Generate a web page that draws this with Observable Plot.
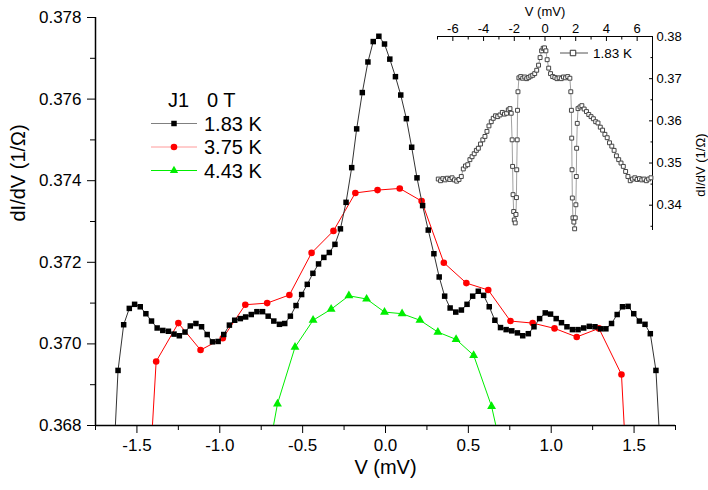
<!DOCTYPE html>
<html><head><meta charset="utf-8">
<script src="https://cdn.jsdelivr.net/npm/d3@7"></script>
<script src="https://cdn.jsdelivr.net/npm/@observablehq/plot@0.6"></script>
<style>
body{margin:0;background:#fff;font-family:"Liberation Sans",Arial,sans-serif}
#wrap{position:relative;width:708px;height:490px}
#wrap svg{position:absolute;overflow:visible}
</style></head>
<body><div id="wrap"></div>
<script>
// ---- main chart data: dI/dV vs V ----
const seriesNames = ["1.83 K", "3.75 K", "4.43 K"];
const v183 = [-1.648,-1.614,-1.580,-1.546,-1.514,-1.480,-1.446,-1.412,-1.378,-1.344,-1.310,-1.276,-1.244,-1.210,-1.178,-1.144,-1.110,-1.076,-1.044,-1.010,-0.976,-0.942,-0.910,-0.876,-0.844,-0.810,-0.776,-0.742,-0.708,-0.674,-0.640,-0.608,-0.574,-0.540,-0.506,-0.472,-0.438,-0.404,-0.372,-0.339,-0.305,-0.272,-0.238,-0.204,-0.174,-0.140,-0.106,-0.074,-0.040,-0.006,0.026,0.060,0.092,0.126,0.158,0.190,0.224,0.258,0.292,0.324,0.357,0.390,0.424,0.458,0.492,0.526,0.560,0.592,0.626,0.660,0.694,0.728,0.762,0.796,0.828,0.862,0.896,0.930,0.964,0.996,1.030,1.062,1.095,1.128,1.162,1.196,1.230,1.264,1.298,1.330,1.364,1.398,1.430,1.464,1.498,1.532,1.566,1.598,1.632,1.666];
const g183 = [0.36650,0.36935,0.37047,0.37087,0.37097,0.37091,0.37074,0.37056,0.37039,0.37033,0.37031,0.37024,0.37020,0.37029,0.37044,0.37050,0.37042,0.37023,0.37005,0.37006,0.37023,0.37046,0.37058,0.37062,0.37066,0.37072,0.37079,0.37079,0.37068,0.37056,0.37048,0.37050,0.37068,0.37094,0.37121,0.37146,0.37173,0.37196,0.37212,0.37224,0.37244,0.37282,0.37347,0.37432,0.37527,0.37616,0.37691,0.37741,0.37754,0.37735,0.37698,0.37655,0.37610,0.37552,0.37482,0.37407,0.37339,0.37279,0.37221,0.37164,0.37117,0.37088,0.37078,0.37083,0.37097,0.37117,0.37129,0.37119,0.37091,0.37058,0.37040,0.37035,0.37032,0.37027,0.37020,0.37025,0.37042,0.37062,0.37076,0.37073,0.37062,0.37052,0.37042,0.37035,0.37035,0.37039,0.37043,0.37042,0.37037,0.37037,0.37050,0.37072,0.37091,0.37092,0.37074,0.37056,0.37048,0.37025,0.36935,0.36680];
const v375 = [-1.518,-1.384,-1.250,-1.116,-0.982,-0.846,-0.714,-0.580,-0.446,-0.314,-0.182,-0.048,0.086,0.218,0.352,0.488,0.620,0.754,0.888,1.020,1.154,1.288,1.424,1.558];
const g375 = [0.36016,0.36957,0.37051,0.36985,0.37014,0.37096,0.37100,0.37120,0.37223,0.37277,0.37370,0.37377,0.37381,0.37350,0.37199,0.37149,0.37132,0.37056,0.37051,0.37038,0.37017,0.37038,0.36925,0.35896];
const v443 = [-0.760,-0.652,-0.546,-0.437,-0.328,-0.221,-0.114,-0.006,0.100,0.208,0.316,0.426,0.532,0.640,0.748];
const g443 = [0.36613,0.36853,0.36992,0.37058,0.37085,0.37118,0.37110,0.37078,0.37074,0.37058,0.37029,0.37011,0.36972,0.36847,0.36651];

const xTicks = [-1.5,-1.0,-0.5,0.0,0.5,1.0,1.5];
const xMinor = [-1.75,-1.25,-0.75,-0.25,0.25,0.75,1.25,1.75];
const yTicks = [0.368,0.370,0.372,0.374,0.376,0.378];
const yMinor = [0.369,0.371,0.373,0.375,0.377];

// ---- inset data: wide range scan at 1.83 K ----
const insetV = [-6.95,-6.80,-6.65,-6.50,-6.35,-6.20,-6.05,-5.90,-5.75,-5.60,-5.45,-5.32,-5.18,-5.03,-4.89,-4.75,-4.61,-4.47,-4.34,-4.20,-4.05,-3.91,-3.78,-3.65,-3.50,-3.37,-3.22,-3.08,-2.93,-2.78,-2.64,-2.50,-2.39,-2.28,-2.20,-2.14,-2.11,-2.08,-2.04,-2.00,-1.94,-1.89,-1.86,-1.84,-1.81,-1.79,-1.76,-1.70,-1.58,-1.45,-1.32,-1.19,-1.06,-0.93,-0.80,-0.67,-0.54,-0.42,-0.32,-0.22,-0.12,-0.03,0.06,0.14,0.24,0.36,0.50,0.64,0.78,0.92,1.06,1.20,1.34,1.48,1.62,1.68,1.72,1.74,1.76,1.78,1.82,1.88,1.93,1.97,2.01,2.04,2.06,2.10,2.15,2.28,2.40,2.55,2.70,2.85,3.00,3.15,3.30,3.45,3.60,3.75,3.90,4.05,4.20,4.35,4.50,4.65,4.80,4.95,5.10,5.25,5.40,5.55,5.70,5.85,6.00,6.15,6.30,6.45,6.60,6.75,6.90];
const insetG = [0.3462,0.3458,0.3463,0.3460,0.3464,0.3461,0.3465,0.3460,0.3457,0.3461,0.3468,0.3486,0.3493,0.3496,0.3508,0.3515,0.3522,0.3530,0.3535,0.3545,0.3555,0.3563,0.3575,0.3588,0.3598,0.3606,0.3612,0.3610,0.3614,0.3620,0.3616,0.3618,0.3626,0.3629,0.3618,0.3555,0.3492,0.3425,0.3385,0.3365,0.3358,0.3378,0.3418,0.3484,0.3555,0.3625,0.3669,0.3702,0.3705,0.3701,0.3704,0.3700,0.3703,0.3706,0.3708,0.3712,0.3720,0.3732,0.3750,0.3766,0.3772,0.3773,0.3766,0.3745,0.3725,0.3712,0.3705,0.3703,0.3700,0.3702,0.3700,0.3704,0.3702,0.3705,0.3701,0.3669,0.3625,0.3559,0.3484,0.3417,0.3370,0.3360,0.3344,0.3370,0.3401,0.3468,0.3535,0.3594,0.3629,0.3633,0.3636,0.3628,0.3622,0.3615,0.3610,0.3605,0.3598,0.3595,0.3585,0.3578,0.3568,0.3560,0.3548,0.3540,0.3530,0.3517,0.3508,0.3500,0.3492,0.3480,0.3468,0.3458,0.3462,0.3465,0.3461,0.3463,0.3460,0.3462,0.3458,0.3462,0.3465];
const insetXTicks = [-6,-4,-2,0,2,4,6];
const insetXMinor = [-7,-5,-3,-1,1,3,5,7];
const insetYTicks = [0.34,0.35,0.36,0.37,0.38];
const insetYMinor = [0.335,0.345,0.355,0.365,0.375];

const rows = (V, G) => V.map((v, i) => ({v, g: G[i]}));
const d183 = rows(v183, g183), d375 = rows(v375, g375), d443 = rows(v443, g443);
const dInset = rows(insetV, insetG);

const FONT = '"Liberation Sans", Arial, sans-serif';
const wrap = document.getElementById("wrap");

const main = Plot.plot({
  width: 708, height: 490,
  marginLeft: 95, marginRight: 33, marginTop: 17, marginBottom: 65,
  style: {fontFamily: FONT, fontSize: "17px", color: "#000", background: "transparent", overflow: "visible"},
  x: {domain: [-1.75, 1.75]},
  y: {domain: [0.368, 0.378]},
  marks: [
    Plot.axisX({ticks: xMinor, tickSize: 5, tickFormat: () => "", label: null}),
    Plot.axisX({ticks: xTicks, tickSize: 8, tickPadding: 5, tickFormat: d => d.toFixed(1), label: null, fontSize: 17}),
    Plot.axisY({ticks: yMinor, tickSize: 5, tickFormat: () => "", label: null}),
    Plot.axisY({ticks: yTicks, tickSize: 8, tickPadding: 6, tickFormat: d => d.toFixed(3), label: null, fontSize: 17}),
    Plot.ruleX([-1.75], {stroke: "#000", strokeWidth: 1.5}),
    Plot.ruleY([0.368], {stroke: "#000", strokeWidth: 1.5}),
    Plot.text(["V (mV)"], {frameAnchor: "bottom", dy: 42, fontSize: 20, lineAnchor: "middle"}),
    Plot.text(["dI/dV (1/\u03A9)"], {frameAnchor: "left", dx: -77, rotate: -90, fontSize: 20, lineAnchor: "middle"}),
    Plot.line(d443, {x: "v", y: "g", stroke: "#00ee00", strokeWidth: 1, clip: true}),
    Plot.dot(d443, {x: "v", y: "g", symbol: "triangle", r: 3.3, fill: "#00ee00", stroke: "none", clip: true}),
    Plot.line(d375, {x: "v", y: "g", stroke: "#ff0000", strokeWidth: 1, clip: true}),
    Plot.dot(d375, {x: "v", y: "g", symbol: "circle", r: 3.3, fill: "#ff0000", stroke: "none", clip: true}),
    Plot.line(d183, {x: "v", y: "g", stroke: "#333", strokeWidth: 1, clip: true}),
    Plot.dot(d183, {x: "v", y: "g", symbol: "square", r: 3.1, fill: "#000", stroke: "none", clip: true})
  ]
});
main.style.left = "0px"; main.style.top = "0px";
wrap.appendChild(main);

// legend for main chart (real text)
const lg = d3.select(main).append("g").attr("font-family", FONT).attr("font-size", 20).attr("fill", "#000").attr("text-anchor", "start");
lg.append("text").attr("x", 168).attr("y", 107).text("J1");
lg.append("text").attr("x", 207).attr("y", 107).text("0 T");
const legendItems = [
  {name: seriesNames[0], line: "#808080", fill: "#000", sym: d3.symbolSquare, size: 30},
  {name: seriesNames[1], line: "#ff9a9a", fill: "#ff0000", sym: d3.symbolCircle, size: 34},
  {name: seriesNames[2], line: "#00ee00", fill: "#00ee00", sym: d3.symbolTriangle, size: 30}
];
legendItems.forEach((it, i) => {
  const cy = 123.5 + i * 23.5;
  lg.append("line").attr("x1", 151).attr("x2", 197).attr("y1", cy).attr("y2", cy).attr("stroke", it.line).attr("stroke-width", 1);
  lg.append("path").attr("d", d3.symbol(it.sym, it.size)()).attr("transform", `translate(174,${cy})`).attr("fill", it.fill);
  lg.append("text").attr("x", 204).attr("y", cy + 7).text(it.name);
});

// ---- inset ----
const inset = Plot.plot({
  width: 288, height: 240,
  marginLeft: 17, marginRight: 56, marginTop: 36, marginBottom: 10,
  style: {fontFamily: FONT, fontSize: "13px", color: "#000", background: "transparent", overflow: "visible"},
  x: {domain: [-7, 7]},
  y: {domain: [0.334, 0.38]},
  marks: [
    Plot.axisX({anchor: "top", ticks: insetXMinor, tickSize: -2.5, tickPadding: 8, tickFormat: () => "", label: null}),
    Plot.axisX({anchor: "top", ticks: insetXTicks, tickSize: -4, tickPadding: 8, tickFormat: d => String(d), label: null, fontSize: 13}),
    Plot.axisY({anchor: "right", ticks: insetYMinor, tickSize: -2.5, tickPadding: 8, tickFormat: () => "", label: null}),
    Plot.axisY({anchor: "right", ticks: insetYTicks, tickSize: -4, tickPadding: 8, tickFormat: d => d.toFixed(2), label: null, fontSize: 13}),
    Plot.ruleY([0.38], {stroke: "#000", strokeWidth: 1}),
    Plot.ruleX([7], {stroke: "#000", strokeWidth: 1}),
    Plot.text(["V (mV)"], {frameAnchor: "top", dy: -25, fontSize: 13, lineAnchor: "middle"}),
    Plot.text(["dI/dV (1/\u03A9)"], {frameAnchor: "right", dx: 48, rotate: -90, fontSize: 13, lineAnchor: "middle"}),
    Plot.line(dInset, {x: "v", y: "g", stroke: "#888", strokeWidth: 0.8}),
    Plot.dot(dInset, {x: "v", y: "g", symbol: "square", r: 2.2, fill: "#fff", stroke: "#444", strokeWidth: 1})
  ]
});
inset.style.left = "420px"; inset.style.top = "0px";
wrap.appendChild(inset);

const il = d3.select(inset).append("g").attr("font-family", FONT).attr("font-size", 13.5).attr("text-anchor", "start");
il.append("line").attr("x1", 140).attr("x2", 168).attr("y1", 53).attr("y2", 53).attr("stroke", "#555");
il.append("path").attr("d", d3.symbol(d3.symbolSquare, 30)()).attr("transform", "translate(153,53)").attr("fill", "#fff").attr("stroke", "#333");
il.append("text").attr("x", 173).attr("y", 58).text(seriesNames[0]);
</script>
</body></html>
